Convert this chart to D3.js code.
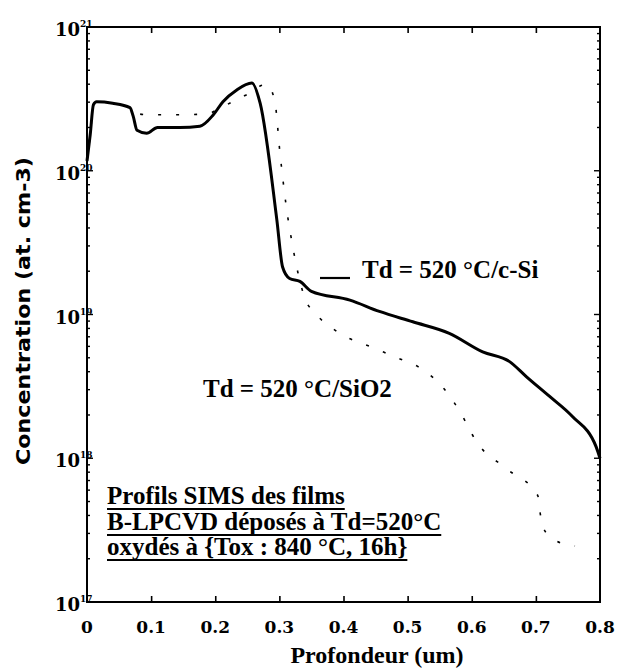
<!DOCTYPE html>
<html><head><meta charset="utf-8">
<script src="https://cdn.jsdelivr.net/npm/d3@7"></script>
<style>body{margin:0;background:#fff}svg{display:block}</style>
</head><body>
<svg id="c" width="620" height="669"></svg>
<script>
// ---- data ----
const depthSolid = [0, 0.005, 0.010, 0.015, 0.040, 0.067, 0.072, 0.078, 0.093, 0.110, 0.145, 0.176, 0.197, 0.212, 0.233, 0.257, 0.270, 0.296, 0.305, 0.316, 0.332, 0.350, 0.410, 0.456, 0.508, 0.565, 0.617, 0.659, 0.685, 0.721, 0.757, 0.794, 0.800];
const concSolid  = [1.17e20, 1.78e20, 2.88e20, 3.02e20, 2.95e20, 2.75e20, 2.40e20, 1.91e20, 1.82e20, 2.0e20, 2.0e20, 2.04e20, 2.45e20, 3.02e20, 3.63e20, 4.07e20, 2.95e20, 4.57e19, 2.14e19, 1.78e19, 1.70e19, 1.45e19, 1.26e19, 1.05e19, 8.9e18, 7.4e18, 5.5e18, 4.7e18, 3.7e18, 2.7e18, 1.95e18, 1.2e18, 1.0e18];
const depthDotted = [0, 0.005, 0.010, 0.015, 0.040, 0.067, 0.075, 0.100, 0.150, 0.190, 0.205, 0.218, 0.240, 0.254, 0.270, 0.281, 0.293, 0.301, 0.313, 0.317, 0.327, 0.340, 0.356, 0.390, 0.452, 0.483, 0.515, 0.566, 0.582, 0.608, 0.657, 0.703, 0.706, 0.711, 0.730, 0.761];
const concDotted  = [1.17e20, 1.78e20, 2.88e20, 3.02e20, 2.95e20, 2.75e20, 2.51e20, 2.45e20, 2.45e20, 2.51e20, 2.69e20, 2.88e20, 3.24e20, 3.47e20, 3.89e20, 3.98e20, 3.02e20, 1.32e20, 4.79e19, 3.72e19, 2.14e19, 1.29e19, 1.02e19, 7.6e18, 5.75e18, 5.0e18, 4.37e18, 2.69e18, 2.09e18, 1.29e18, 8.3e17, 5.5e17, 4.37e17, 3.31e17, 2.69e17, 2.45e17];
const xTicks = [0, 0.1, 0.2, 0.3, 0.4, 0.5, 0.6, 0.7, 0.8];
const xTickLabels = ["0", "0.1", "0.2", "0.3", "0.4", "0.5", "0.6", "0.7", "0.8"];
const yTicks = [1e17, 1e18, 1e19, 1e20, 1e21];
const yTickExponents = ["17", "18", "19", "20", "21"];
const xTitle = "Profondeur (um)";
const yTitle = "Concentration (at. cm-3)";
const legendSolid = "Td = 520 °C/c-Si";
const legendDotted = "Td = 520 °C/SiO2";
const noteLines = ["Profils SIMS des films", "B-LPCVD déposés à Td=520°C", "oxydés à {Tox : 840 °C, 16h}"];

// ---- drawing ----
const svg = d3.select("#c");
const L = 87, R = 600, T = 27, B = 602;
const x = d3.scaleLinear().domain([0, 0.8]).range([L, R]);
const y = d3.scaleLog().domain([1e17, 1e21]).range([B, T]);
const serif = "'Liberation Serif','Times New Roman',serif";
const tickFont = "'DejaVu Serif',serif";

const inner = xTicks.slice(1, -1);
svg.append("g").attr("transform", `translate(0,${B})`)
  .call(d3.axisBottom(x).tickValues(inner).tickSize(-6).tickFormat(""))
  .call(g => { g.select(".domain").remove(); g.selectAll("line").attr("stroke-width", 1.6); });
svg.append("g").attr("transform", `translate(0,${T})`)
  .call(d3.axisTop(x).tickValues(inner).tickSize(-6).tickFormat(""))
  .call(g => { g.select(".domain").remove(); g.selectAll("line").attr("stroke-width", 1.6); });

const allY = y.ticks().filter(v => v > 1e17 && v < 1e21);
const isMajor = v => Math.abs(Math.log10(v) - Math.round(Math.log10(v))) < 1e-6;
[["l", L, 1], ["r", R, -1]].forEach(([k, xp, dir]) => {
  svg.append("g").selectAll("line").data(allY).join("line")
    .attr("x1", xp).attr("x2", d => xp + dir * (isMajor(d) ? 6 : 3))
    .attr("y1", d => y(d)).attr("y2", d => y(d))
    .attr("stroke", "#000").attr("stroke-width", 1.4);
});

svg.append("rect").attr("x", L).attr("y", T).attr("width", R - L).attr("height", B - T)
  .attr("fill", "none").attr("stroke", "#000").attr("stroke-width", 2);

// x tick labels
svg.append("g").selectAll("text").data(xTicks).join("text")
  .attr("x", d => x(d)).attr("y", 633).attr("text-anchor", "middle")
  .attr("font-family", tickFont).attr("font-weight", "bold").attr("font-size", 17)
  .text((d, i) => xTickLabels[i]);

// y tick labels
const yl = svg.append("g").selectAll("text").data(yTicks).join("text")
  .attr("x", 55).attr("y", d => y(d) + 9)
  .attr("font-family", tickFont).attr("font-weight", "bold").attr("font-size", 18);
yl.append("tspan").text("10");
yl.append("tspan").attr("font-size", 9).attr("dy", -9).text((d, i) => yTickExponents[i]);

// titles
svg.append("text").attr("x", 377).attr("y", 663).attr("text-anchor", "middle")
  .attr("font-family", serif).attr("font-weight", "bold").attr("font-size", 24).text(xTitle);
svg.append("text").attr("transform", "translate(30,311) rotate(-90)").attr("text-anchor", "middle")
  .attr("font-family", "'DejaVu Sans Condensed','DejaVu Sans',sans-serif").attr("font-weight", "bold")
  .attr("font-size", 20).attr("textLength", 308).attr("lengthAdjust", "spacingAndGlyphs").text(yTitle);

// lines
const line = d3.line().x(d => x(d[0])).y(d => y(d[1])).curve(d3.curveMonotoneX);
svg.append("path").attr("d", line(d3.zip(depthDotted, concDotted)))
  .attr("fill", "none").attr("stroke", "#000").attr("stroke-width", 1.6).attr("stroke-dasharray", "3,15");
svg.append("path").attr("d", line(d3.zip(depthSolid, concSolid)))
  .attr("fill", "none").attr("stroke", "#000").attr("stroke-width", 3).attr("stroke-linejoin", "round");

// legends
svg.append("line").attr("x1", 320).attr("x2", 350).attr("y1", 278).attr("y2", 278).attr("stroke", "#000").attr("stroke-width", 2.2);
svg.append("text").attr("x", 362).attr("y", 278).attr("font-family", serif).attr("font-weight", "bold").attr("font-size", 25).text(legendSolid);
svg.append("text").attr("x", 203).attr("y", 397).attr("font-family", serif).attr("font-weight", "bold").attr("font-size", 25).text(legendDotted);

// note
const base = [504, 530, 555];
noteLines.forEach((s, i) => {
  const t = svg.append("text").attr("x", 107).attr("y", base[i]).attr("font-family", serif)
    .attr("font-weight", "bold").attr("font-size", 25).text(s);
  const w = t.node().getComputedTextLength();
  svg.append("line").attr("x1", 107).attr("x2", 107 + w).attr("y1", base[i] + 5).attr("y2", base[i] + 5)
    .attr("stroke", "#000").attr("stroke-width", 2);
});
</script>
</body></html>
